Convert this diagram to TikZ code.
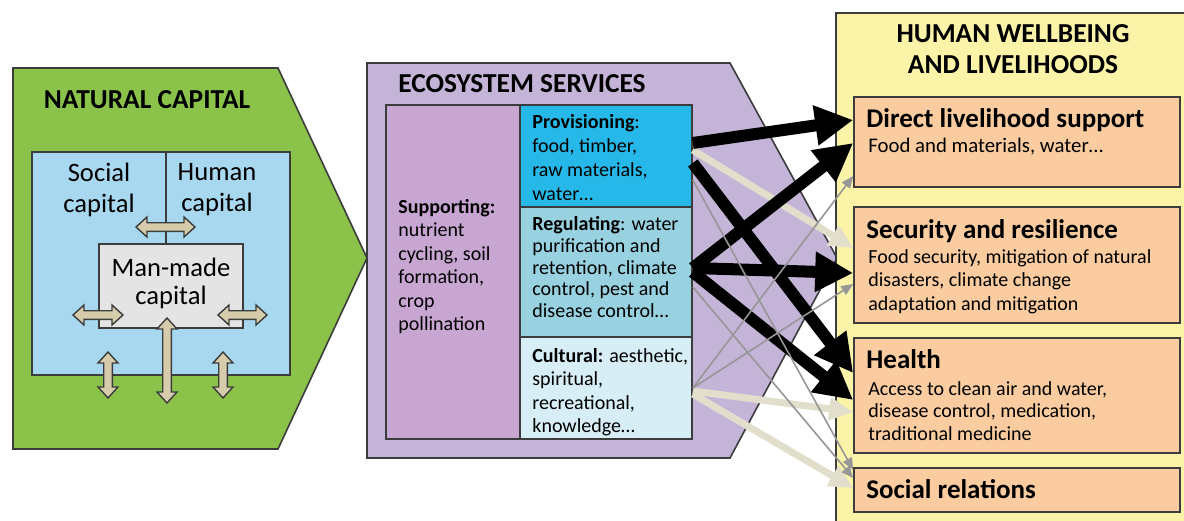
\documentclass[tikz,border=0pt]{standalone}
\usepackage{fontspec}
\setmainfont{Carlito}
\usetikzlibrary{arrows.meta,fit}

\definecolor{natgreen}{RGB}{139,195,74}
\definecolor{capblue}{RGB}{168,216,240}
\definecolor{mangrey}{RGB}{228,228,228}
\definecolor{twowaytan}{RGB}{214,204,172}
\definecolor{servpurple}{RGB}{196,181,216}
\definecolor{supppurple}{RGB}{200,166,210}
\definecolor{provblue}{RGB}{38,184,232}
\definecolor{regblue}{RGB}{152,210,224}
\definecolor{cultblue}{RGB}{216,238,246}
\definecolor{wellyellow}{RGB}{250,243,168}
\definecolor{wellorange}{RGB}{250,204,160}
\definecolor{flowbeige}{RGB}{226,222,204}
\definecolor{flowgrey}{RGB}{150,150,150}
\definecolor{edge}{RGB}{60,60,60}

% double headed capital arrow: centre, angle, half length
\newcommand{\twoway}[3]{%
  \begin{scope}[shift={#1}, rotate=#2]
    \draw[twowayarr] (-#3,0) -- (-#3+11,-10) -- (-#3+11,-4.3) -- (#3-11,-4.3)
        -- (#3-11,-10) -- (#3,0) -- (#3-11,10) -- (#3-11,4.3)
        -- (-#3+11,4.3) -- (-#3+11,10) -- cycle;
  \end{scope}}

\begin{document}
\begin{tikzpicture}[x=0.5pt, y=-0.5pt,
    outline/.style={draw=edge, line width=0.8pt},
    areabox/.style={outline, inner sep=0pt},
    bigtitle/.style={font=\bfseries\fontsize{13.7}{15.5}\selectfont, inner sep=0pt},
    captext/.style={font=\fontsize{13.3}{15.5}\selectfont, align=center, inner sep=0pt, anchor=north},
    servtext/.style={font=\fontsize{10}{12}\selectfont, align=left, inner sep=0pt, anchor=north west},
    welltitle/.style={font=\bfseries\fontsize{13.5}{15}\selectfont, inner sep=0pt, anchor=base west},
    welltext/.style={font=\fontsize{10}{11.75}\selectfont, align=left, inner sep=0pt, anchor=north west},
    strongflow/.style={-{Triangle[length=19pt,width=19pt]}, line width=6pt, black},
    lightflow/.style={-{Triangle[length=12pt,width=11pt]}, line width=3.5pt, flowbeige},
    thinflow/.style={-{Triangle[length=6pt,width=5pt]}, line width=0.8pt, flowgrey},
    twowayarr/.style={outline, fill=twowaytan, line width=0.7pt},
]
\useasboundingbox (0,0) rectangle (1184,520);

% natural capital
\draw[outline, fill=natgreen] (13,68) -- (278,68) -- (367,258) -- (278,449) -- (13,449) -- cycle;
\node[bigtitle, anchor=base] (natcap) at (147,108) {NATURAL CAPITAL};
\node[areabox, fill=capblue, fit={(32,152)(290,375)}] (capbox) {};
\draw[outline] (166,152) -- (166,244);
\node[areabox, fill=mangrey, fit={(99,244)(243,328)}] (manmade) {};
\node[captext] (socialtxt) at (99,163) {Social\\capital};
\node[captext] (humantxt) at (217,163) {Human\\capital};
\node[captext, font=\fontsize{13.3}{14}\selectfont] (manmadetxt) at (171,258) {Man-made\\capital};
\twoway{(165.5,227)}{0}{29.5}
\twoway{(98,315)}{0}{25}
\twoway{(242.5,315)}{0}{24.5}
\twoway{(167,360.5)}{90}{42.5}
\twoway{(108,375)}{90}{23}
\twoway{(223,375)}{90}{23}

% ecosystem services
\draw[outline, fill=servpurple] (367,63) -- (730,63) -- (837,258) -- (730,458) -- (367,458) -- cycle;
\node[bigtitle, anchor=base] (ecotitle) at (522,92) {ECOSYSTEM SERVICES};
\node[areabox, fill=supppurple, fit={(386,105)(520,439)}] (supp) {};
\node[areabox, fill=provblue, fit={(520,105)(692,207)}] (prov) {};
\node[areabox, fill=regblue, fit={(520,207)(692,337)}] (reg) {};
\node[areabox, fill=cultblue, fit={(520,337)(692,439)}] (cult) {};
\node[servtext, font=\fontsize{10}{11.7}\selectfont] (supptxt) at (398,199)
    {\textbf{Supporting:}\\nutrient\\cycling, soil\\formation,\\crop\\pollination};
\node[servtext] (provtxt) at (532,114)
    {\textbf{Provisioning}:\\food, timber,\\raw materials,\\water…};
\node[servtext, font=\fontsize{10}{10.9}\selectfont] (regtxt) at (532,216)
    {\textbf{Regulating}: water\\purification and\\retention, climate\\control, pest and\\disease control…};
\node[servtext, font=\fontsize{10}{11.7}\selectfont] (culttxt) at (532,348)
    {\textbf{Cultural:} aesthetic,\\spiritual,\\recreational,\\knowledge…};

% human wellbeing
\node[areabox, fill=wellyellow, fit={(836,13)(1200,530)}] (well) {};
\node[bigtitle, align=center, anchor=north] (welltitle) at (1013,24.5) {HUMAN WELLBEING\\AND LIVELIHOODS};
\node[areabox, fill=wellorange, fit={(854,97)(1180,187)}] (direct) {};
\node[areabox, fill=wellorange, fit={(854,207)(1180,323)}] (secure) {};
\node[areabox, fill=wellorange, fit={(854,338)(1180,453)}] (health) {};
\node[areabox, fill=wellorange, fit={(854,468)(1180,512)}] (relations) {};
\node[welltitle] (directtl) at (866,127) {Direct livelihood support};
\node[welltext, font=\fontsize{10.4}{11.75}\selectfont] (directtxt) at (868,138) {Food and materials, water…};
\node[welltitle] (securetl) at (866,238) {Security and resilience};
\node[welltext] (securetxt) at (868,249) {Food security, mitigation of natural\\disasters, climate change\\adaptation and mitigation};
\node[welltitle] (healthtl) at (866,368) {Health};
\node[welltext, font=\fontsize{10}{11.3}\selectfont] (healthtxt) at (868,381) {Access to clean air and water,\\disease control, medication,\\traditional medicine};
\node[welltitle] (relationstl) at (866,498) {Social relations};

% flows
\draw[lightflow] ([yshift=3pt]prov.east) -- ([yshift=8.5pt]secure.west);
\draw[lightflow] ([yshift=-1.5pt]cult.east) -- ([yshift=-8.25pt]health.west);
\draw[lightflow] ([yshift=-3pt]cult.east) -- ([yshift=1pt]relations.west);
\draw[strongflow] ([yshift=6.5pt]prov.east) -- ([yshift=11pt]direct.west);
\draw[strongflow] ([yshift=-3.5pt]prov.east) -- ([yshift=11.25pt]health.west);
\draw[strongflow] ([yshift=2pt]reg.east) -- ([yshift=-0.5pt]direct.west);
\draw[strongflow] ([yshift=2pt]reg.east) -- ([yshift=-4pt]secure.west);
\draw[strongflow] (reg.east) -- ([yshift=-2.25pt]health.west);
\draw[thinflow] ([yshift=-12pt]prov.east) -- ([yshift=10pt]relations.west);
\draw[thinflow] ([yshift=-7.5pt]reg.east) -- ([yshift=6pt]relations.west);
\draw[thinflow] (cult.east) -- ([yshift=-17pt]direct.west);
\draw[thinflow] (cult.east) -- ([yshift=-9.5pt]secure.west);
\end{tikzpicture}
\end{document}
